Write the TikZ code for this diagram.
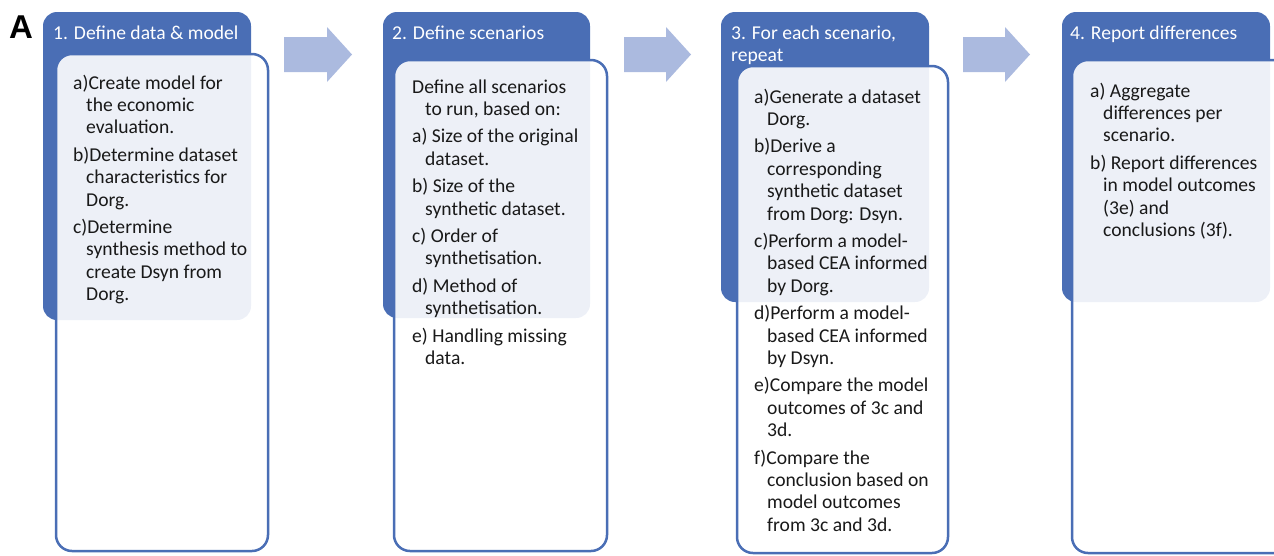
\documentclass[tikz,border=0pt]{standalone}
\usepackage{fontspec}
\setmainfont{Carlito}
\newfontfamily\arialfont{Liberation Sans}
\definecolor{hdrblue}{HTML}{4A6EB5}
\definecolor{arrowblue}{HTML}{ABBADF}
\tikzset{
  hdrbox/.style={fill=hdrblue, rounded corners=14pt},
  outbox/.style={draw=hdrblue, line width=2.5pt, fill=white, fill opacity=0.9, draw opacity=1, rounded corners=16pt},
  blockarrow/.style={fill=arrowblue},
  hdrtxt/.style={anchor=north west, inner sep=0pt, text=white, align=left, font=\fontsize{19.6}{22.4}\selectfont},
  bodytxt/.style={anchor=north west, inner sep=0pt, text=black!90, align=left, font=\fontsize{19.6}{22.4}\selectfont},
}
\newcommand\ind{\hspace*{13pt}}
\begin{document}
\begin{tikzpicture}[x=1pt,y=-1pt]
\useasboundingbox (0,0) rectangle (1274,555);
% panel boxes
\fill[hdrbox] (43,12) rectangle (251,320);
\draw[outbox] (56,54) rectangle (268,551);
\fill[hdrbox] (383,12) rectangle (590,318);
\draw[outbox] (394,60) rectangle (607,551);
\fill[hdrbox] (721,12) rectangle (929,302);
\draw[outbox] (737,66) rectangle (948,553);
\fill[hdrbox] (1062,12) rectangle (1270,302);
\draw[outbox] (1072,60) rectangle (1290,553);
% arrows
\fill[blockarrow] (284,37) -- (327,37) -- (327,27) -- (352,54.5) -- (327,82) -- (327,72) -- (284,72) -- cycle;
\fill[blockarrow] (624,37) -- (666,37) -- (666,27) -- (691,54.5) -- (666,82) -- (666,72) -- (624,72) -- cycle;
\fill[blockarrow] (963,37) -- (1005,37) -- (1005,27) -- (1030,54.5) -- (1005,82) -- (1005,72) -- (963,72) -- cycle;
% label A
\node[anchor=base west, inner sep=0pt, font=\arialfont\bfseries\fontsize{33}{36}\selectfont] (lblA) at (9,38) {A};
% headers
\node[hdrtxt] (h1) at (53,23.3) {\strut 1. Define data \& model};
\node[hdrtxt] (h2) at (392,23.3) {\strut 2. Define scenarios};
\node[hdrtxt] (h3) at (731,23.3) {\strut 3. For each scenario,\\repeat};
\node[hdrtxt] (h4) at (1070,23.3) {\strut 4. Report differences};
% bodies
\node[bodytxt] (b1) at (73,73.3) {\strut a)Create model for\\\ind the economic\\\ind evaluation.\\[5pt]
b)Determine dataset\\\ind characteristics for\\\ind Dorg.\\[5pt]
c)Determine\\\ind synthesis method to\\\ind create Dsyn from\\\ind Dorg.};
\node[bodytxt] (b2) at (412,77.3) {\strut Define all scenarios\\\ind to run, based on:\\[5pt]
a) Size of the original\\\ind dataset.\\[5pt]
b) Size of the\\\ind synthetic dataset.\\[5pt]
c) Order of\\\ind synthetisation.\\[5pt]
d) Method of\\\ind synthetisation.\\[5pt]
e) Handling missing\\\ind data.};
\node[bodytxt] (b3) at (754,87.3) {\strut a)Generate a dataset\\\ind Dorg.\\[5pt]
b)Derive a\\\ind corresponding\\\ind synthetic dataset\\\ind from Dorg: Dsyn.\\[5pt]
c)Perform a model-\\\ind based CEA informed\\\ind by Dorg.\\[5pt]
d)Perform a model-\\\ind based CEA informed\\\ind by Dsyn.\\[5pt]
e)Compare the model\\\ind outcomes of 3c and\\\ind 3d.\\[5pt]
f)Compare the\\\ind conclusion based on\\\ind model outcomes\\\ind from 3c and 3d.};
\node[bodytxt] (b4) at (1090,81.3) {\strut a) Aggregate\\\ind differences per\\\ind scenario.\\[5pt]
b) Report differences\\\ind in model outcomes\\\ind (3e) and\\\ind conclusions (3f).};
\end{tikzpicture}
\end{document}
